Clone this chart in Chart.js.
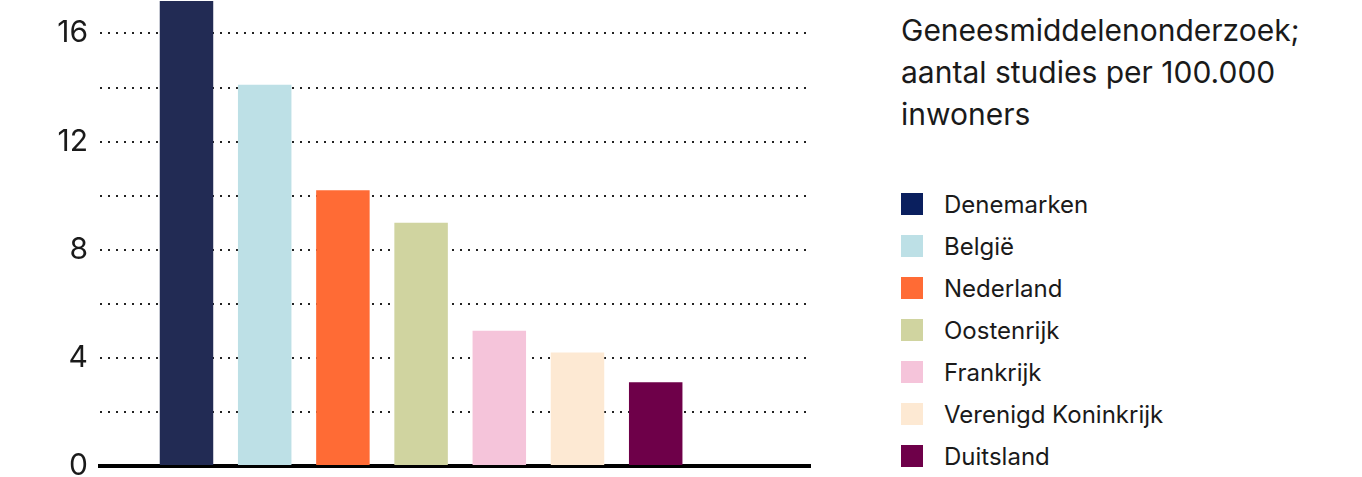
<!DOCTYPE html>
<html>
<head>
<meta charset="utf-8">
<script src="https://cdn.jsdelivr.net/npm/chart.js@4/dist/chart.umd.min.js"></script>
<style>
    body { margin: 0; background: #fff; font-family: Inter, sans-serif; color: #1a1a1a; overflow: hidden; }
    #wrap { position: absolute; left: 0; top: -29px; width: 830px; height: 525px; }
    #title { position: absolute; left: 901px; top: 9px; font-size: 30px; line-height: 42px; width: 460px; }
    #legend { position: absolute; left: 901px; top: 183px; list-style: none; margin: 0; padding: 0; }
    #legend li { height: 42px; display: flex; align-items: center; font-size: 24px; }
    #legend span.box { width: 22px; height: 22px; margin-right: 21px; display: inline-block; }
</style>
</head>
<body>
<div id="wrap"><canvas id="chart"></canvas></div>
<div id="title">Geneesmiddelenonderzoek;<br>aantal studies per 100.000<br>inwoners</div>
<ul id="legend"></ul>
<script>
// data
const countries = ['Denemarken', 'België', 'Nederland', 'Oostenrijk', 'Frankrijk', 'Verenigd Koninkrijk', 'Duitsland'];
const studies = [18.5, 14.1, 10.2, 9.0, 5.0, 4.2, 3.1];
const barColors = ['#222B54', '#BDE0E6', '#FF6B35', '#D0D4A0', '#F5C4DA', '#FDE9D3', '#6E0049'];
const legendColors = ['#0A1F5E', '#BDE0E6', '#FF6B35', '#D0D4A0', '#F5C4DA', '#FDE9D3', '#6E0049'];
const yTicks = [0, 4, 8, 12, 16];

const legend = document.getElementById('legend');
countries.forEach(function(name, i) {
    const li = document.createElement('li');
    li.innerHTML = '<span class="box" style="background:' + legendColors[i] + '"></span>' + name;
    legend.appendChild(li);
});

const ctx = document.getElementById('chart').getContext('2d');
new Chart(ctx, {
    type: 'bar',
    data: {
        datasets: [{
            data: studies.map(function(v, i) { return { x: i, y: v }; }),
            backgroundColor: barColors,
            barPercentage: 0.703,
            categoryPercentage: 1
        }]
    },
    options: {
        responsive: true,
        maintainAspectRatio: false,
        animation: false,
        layout: { padding: { top: -25, bottom: -4, right: 20, left: 0 } },
        plugins: { legend: { display: false }, tooltip: { enabled: false } },
        scales: {
            x: {
                type: 'linear',
                offset: false,
                min: -1.106,
                max: 7.973,
                ticks: { display: false },
                grid: { display: false },
                border: { display: true, color: '#000', width: 4 }
            },
            y: {
                min: 0,
                max: 17.2,
                afterFit: function(scale) { scale.width = 100; },
                border: { display: false, dash: [2, 6] },
                grid: {
                    color: '#222',
                    lineWidth: 2,
                    drawTicks: false
                },
                ticks: {
                    stepSize: 2,
                    includeBounds: false,
                    padding: 12,
                    color: '#1a1a1a',
                    font: { family: 'Inter', size: 30 },
                    callback: function(v) { return yTicks.indexOf(v) >= 0 ? String(v) : ''; }
                }
            }
        }
    }
});
</script>
</body>
</html>
